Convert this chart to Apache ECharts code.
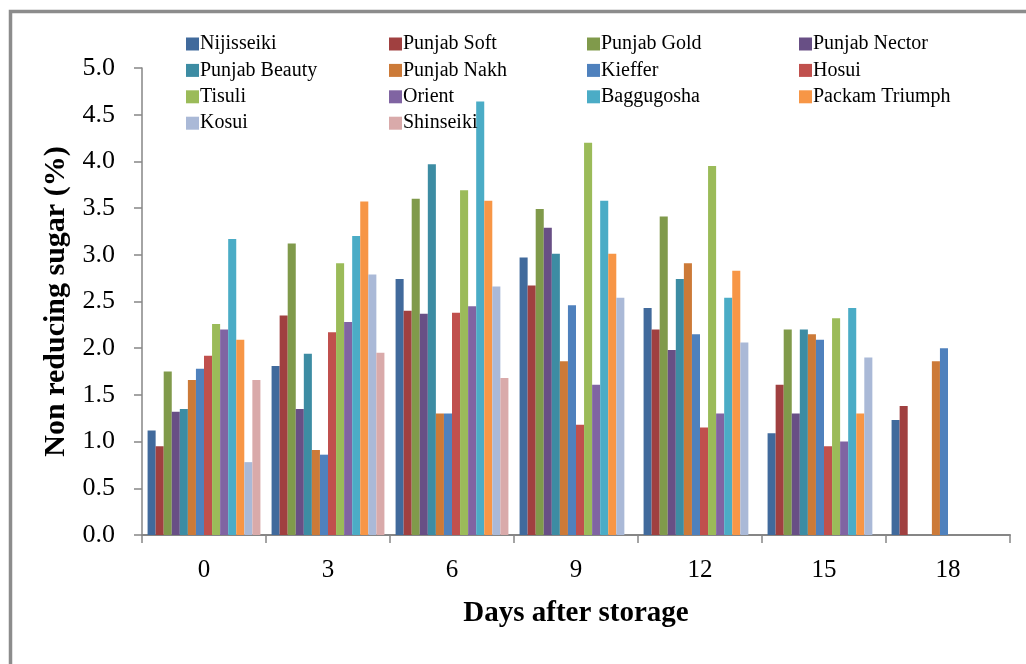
<!DOCTYPE html>
<html>
<head>
<meta charset="utf-8">
<title>Non reducing sugar during storage</title>
<script src="https://cdn.jsdelivr.net/npm/echarts@6/dist/echarts.min.js"></script>
<style>
  html, body { margin: 0; padding: 0; background: #ffffff; }
  #chart { width: 1026px; height: 664px; }
</style>
</head>
<body>
<div id="chart"></div>
<script>
// Days after storage
const days = ['0', '3', '6', '9', '12', '15', '18'];

// Non reducing sugar (%) per cultivar, one value per storage day (null = not measured)
const nijisseiki    = [1.12, 1.81, 2.74, 2.97, 2.43, 1.09, 1.23];
const punjabSoft    = [0.95, 2.35, 2.40, 2.67, 2.20, 1.61, 1.38];
const punjabGold    = [1.75, 3.12, 3.60, 3.49, 3.41, 2.20, null];
const punjabNector  = [1.32, 1.35, 2.37, 3.29, 1.98, 1.30, null];
const punjabBeauty  = [1.35, 1.94, 3.97, 3.01, 2.74, 2.20, null];
const punjabNakh    = [1.66, 0.91, 1.30, 1.86, 2.91, 2.15, 1.86];
const kieffer       = [1.78, 0.86, 1.30, 2.46, 2.15, 2.09, 2.00];
const hosui         = [1.92, 2.17, 2.38, 1.18, 1.15, 0.95, null];
const tisuli        = [2.26, 2.91, 3.69, 4.20, 3.95, 2.32, null];
const orient        = [2.20, 2.28, 2.45, 1.61, 1.30, 1.00, null];
const baggugosha    = [3.17, 3.20, 4.64, 3.58, 2.54, 2.43, null];
const packamTriumph = [2.09, 3.57, 3.58, 3.01, 2.83, 1.30, null];
const kosui         = [0.78, 2.79, 2.66, 2.54, 2.06, 1.90, null];
const shinseiki     = [1.66, 1.95, 1.68, null, null, null, null];

// Y axis tick labels
const yTickLabels = ['0.0', '0.5', '1.0', '1.5', '2.0', '2.5', '3.0', '3.5', '4.0', '4.5', '5.0'];

const cultivars = [
  ['Nijisseiki', nijisseiki, '#416A9C'],
  ['Punjab Soft', punjabSoft, '#A04040'],
  ['Punjab Gold', punjabGold, '#809A4B'],
  ['Punjab Nector', punjabNector, '#684F85'],
  ['Punjab Beauty', punjabBeauty, '#3D8CA3'],
  ['Punjab Nakh', punjabNakh, '#CC7A38'],
  ['Kieffer', kieffer, '#4F81BD'],
  ['Hosui', hosui, '#C0504D'],
  ['Tisuli', tisuli, '#9BBB59'],
  ['Orient', orient, '#8064A2'],
  ['Baggugosha', baggugosha, '#4BACC6'],
  ['Packam Triumph', packamTriumph, '#F79646'],
  ['Kosui', kosui, '#AAB9D7'],
  ['Shinseiki', shinseiki, '#D9AAAA']
];

const serif = '"Liberation Serif", "DejaVu Serif", serif';
const axisGrey = '#868686';

// Legend laid out in four columns, filled row by row
const legendCols = [[], [], [], []];
cultivars.forEach((c, i) => legendCols[i % 4].push(c[0]));
const colLeft = [186, 389, 587, 799];
const legends = legendCols.map((names, i) => ({
  data: names,
  orient: 'vertical',
  left: colLeft[i],
  top: 34,
  padding: 0,
  itemWidth: 13,
  itemHeight: 13,
  itemGap: 6.4,
  icon: 'rect',
  selectedMode: false,
  textStyle: { fontFamily: serif, fontSize: 20, color: '#000', lineHeight: 20, padding: [0, 0, 0, -4] }
}));

const chart = echarts.init(document.getElementById('chart'));
chart.setOption({
  animation: false,
  backgroundColor: '#ffffff',
  legend: legends,
  grid: { left: 142, right: 16, top: 68, bottom: 129, containLabel: false },
  xAxis: {
    type: 'category',
    data: days,
    name: 'Days after storage',
    nameLocation: 'middle',
    nameGap: 64,
    nameTextStyle: { fontFamily: serif, fontSize: 29, fontWeight: 'bold', color: '#000' },
    axisLine: { lineStyle: { color: axisGrey, width: 2 } },
    axisTick: { show: true, length: 8, lineStyle: { color: axisGrey, width: 1.5 } },
    axisLabel: { fontFamily: serif, fontSize: 25, color: '#000', margin: 23 }
  },
  yAxis: {
    type: 'value',
    min: 0,
    max: 5,
    interval: 0.5,
    name: 'Non reducing sugar (%)',
    nameLocation: 'middle',
    nameGap: 71,
    nameRotate: 90,
    nameTextStyle: { fontFamily: serif, fontSize: 30, fontWeight: 'bold', color: '#000' },
    splitLine: { show: false },
    axisLine: { show: true, lineStyle: { color: axisGrey, width: 1.5 } },
    axisTick: { show: true, length: 8, lineStyle: { color: axisGrey, width: 1.5 } },
    axisLabel: {
      fontFamily: serif, fontSize: 26, color: '#000', margin: 27,
      formatter: v => yTickLabels[Math.round(v / 0.5)]
    }
  },
  series: cultivars.map(c => ({
    name: c[0],
    type: 'bar',
    data: c[1],
    itemStyle: { color: c[2] },
    barGap: '0%',
    barCategoryGap: '9%'
  })),
  graphic: [
    {
      type: 'polyline',
      shape: { points: [[10.5, 664], [10.5, 11.5], [1026, 11.5]] },
      style: { stroke: '#8C8C8C', lineWidth: 3.5, fill: null },
      silent: true
    }
  ]
});
</script>
</body>
</html>
